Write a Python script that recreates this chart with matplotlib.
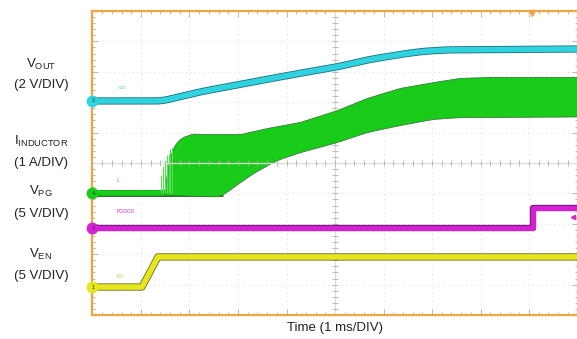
import matplotlib
matplotlib.use("Agg")
import matplotlib.pyplot as plt
import matplotlib.patheffects as pe
from matplotlib.ticker import MultipleLocator
import numpy as np

plt.rcParams['font.family'] = ['Liberation Sans', 'DejaVu Sans']
plt.rcParams['mathtext.fontset'] = 'custom'
plt.rcParams['mathtext.rm'] = 'Liberation Sans'

# time in divisions (1 ms/DIV), levels in screen divisions (0 = bottom, 10 = top)
vout_t = [0, 1.43, 2.22, 3.25, 4.2, 5.04, 5.7, 6.34, 6.8, 7.3, 10]
vout_y = [7.04, 7.04, 7.34, 7.65, 7.93, 8.16, 8.40, 8.57, 8.67, 8.72, 8.75]

il_base = 4.0
il_up_t = [1.49, 1.55, 1.64, 1.75, 1.87, 2.07, 2.22, 3.04, 3.6, 4.28, 5.04, 5.66,
           6.34, 7.02, 7.58, 8.2, 10]
il_up_y = [4.1, 4.9, 5.43, 5.72, 5.86, 5.97, 5.95, 5.95, 6.15, 6.35, 6.74, 7.14,
           7.47, 7.66, 7.80, 7.83, 7.83]
il_lo_t = [1.49, 2.63, 2.9, 3.31, 3.8, 4.28, 5.04, 5.66, 6.34, 7.02, 7.58, 10]
il_lo_y = [3.95, 3.9, 4.21, 4.67, 5.10, 5.36, 5.69, 6.02, 6.25, 6.45, 6.51, 6.53]
spike_t = [1.42, 1.46, 1.50, 1.53, 1.57, 1.60, 1.64]
spike_y = [4.6, 4.9, 5.1, 5.25, 5.3, 5.45, 5.5]

pg_t = [0, 9.08, 9.08, 10]
pg_y = [2.86, 2.86, 3.52, 3.52]

en_t = [0, 1.02, 1.35, 10]
en_y = [0.92, 0.92, 1.91, 1.91]

c_out = "#2fd3df"
c_il = "#19cc19"
c_pg = "#d81fd8"
c_en = "#e6e61e"
c_frame = "#f2a444"


def smooth(t, y, n=15):
    # round off the corners of the piecewise trace
    k = np.ones(n) / n
    yp = np.pad(y, n // 2, mode='edge')
    return np.convolve(yp, k, mode='valid')


fig = plt.figure(figsize=(5.77, 3.39), dpi=100)
ax = fig.add_axes([0.1603, 0.0708, 0.8406, 0.8968])
ax.set_xlim(0, 10)
ax.set_ylim(0, 10)

ax.xaxis.set_major_locator(MultipleLocator(1))
ax.yaxis.set_major_locator(MultipleLocator(1))
ax.xaxis.set_minor_locator(MultipleLocator(0.2))
ax.yaxis.set_minor_locator(MultipleLocator(0.2))
ax.tick_params(which='both', direction='in', top=True, right=True,
               labelbottom=False, labelleft=False, color="#b0b0b0", width=0.6)
ax.tick_params(which='major', length=4)
ax.tick_params(which='minor', length=2.5)
ax.grid(which='major', color="#dedede", linestyle=(0, (1, 3)), linewidth=0.8)
for s in ax.spines.values():
    s.set_color(c_frame)
    s.set_linewidth(1.6)

# green inductor current band
t_all = np.linspace(1.49, 10, 800)
up = smooth(t_all, np.interp(t_all, il_up_t, il_up_y), 9)
lo = smooth(t_all, np.interp(t_all, il_lo_t, il_lo_y), 25)
ax.plot([0, 2.7], [il_base, il_base], color=c_il, lw=4, solid_capstyle='butt',
        path_effects=[pe.Stroke(linewidth=5, foreground="#2a6a2a"), pe.Normal()], zorder=3)
ax.fill_between(t_all, lo, up, color=c_il, edgecolor="#3a7a3a", linewidth=0.6, zorder=3)
ax.vlines(spike_t, il_base, spike_y, color="#55dd55", lw=0.8, zorder=3)

tv = np.linspace(0, 10, 800)
vv = smooth(tv, np.interp(tv, vout_t, vout_y), 25)
ax.plot(tv, vv, color=c_out, lw=4,
        path_effects=[pe.Stroke(linewidth=5.2, foreground="#1f6f7a"), pe.Normal()], zorder=4)
ax.plot(pg_t, pg_y, color=c_pg, lw=3.5,
        path_effects=[pe.Stroke(linewidth=4.6, foreground="#7a1f7a"), pe.Normal()], zorder=4)
ax.plot(en_t, en_y, color=c_en, lw=4,
        path_effects=[pe.Stroke(linewidth=5.2, foreground="#6a6a1a"), pe.Normal()], zorder=4)

# centre cross of the graticule
ax.axhline(5, color="#dcdcdc", lw=0.9, zorder=5)
ax.axvline(5, color="#dcdcdc", lw=0.9, zorder=2)
mt = np.arange(0, 10.01, 0.2)
ax.plot(mt, np.full_like(mt, 5), ls='none', marker='|', ms=4, color="#b8b0a8", mew=0.6, zorder=5)
ax.plot(np.full_like(mt, 5), mt, ls='none', marker='_', ms=4, color="#b8b0a8", mew=0.6, zorder=2)

# channel markers
marks = [(vout_y[0], c_out, "2"), (il_base, c_il, "4"), (pg_y[0], c_pg, "3"), (en_y[0], c_en, "1")]
for y, c, n in marks:
    ax.plot(0, y, 'o', ms=7.5, color=c, clip_on=False, zorder=6)
    ax.text(0.02, y, n, fontsize=4, ha='center', va='center', color="#333333", zorder=7, clip_on=False)

# tiny scope labels
ax.text(0.55, 7.47, "out", fontsize=3.5, color=c_out, ha='left', va='center')
ax.text(0.5, 4.44, "IL", fontsize=3.5, color="#66cc66", ha='left', va='center')
ax.text(0.5, 3.42, "PGOOD", fontsize=3.5, color=c_pg, ha='left', va='center')
ax.text(0.5, 1.25, "EN", fontsize=3.5, color="#cccc33", ha='left', va='center')

# trigger markers
ax.plot(9.06, 9.93, marker='v', ms=5, color=c_frame, clip_on=False, zorder=6)
ax.plot(9.9, 3.22, marker='<', ms=3, color=c_pg, zorder=6)

lab = dict(fontsize=9.5, ha='center', va='center', color="#222222")
fig.text(0.071, 0.810, r"V$_{\mathregular{OUT}}$", **lab)
fig.text(0.071, 0.749, "(2 V/DIV)", **lab)
fig.text(0.071, 0.582, r"I$_{\mathregular{INDUCTOR}}$", **lab)
fig.text(0.071, 0.519, "(1 A/DIV)", **lab)
fig.text(0.071, 0.434, r"V$_{\mathregular{PG}}$", **lab)
fig.text(0.071, 0.369, "(5 V/DIV)", **lab)
fig.text(0.071, 0.249, r"V$_{\mathregular{EN}}$", **lab)
fig.text(0.071, 0.186, "(5 V/DIV)", **lab)
fig.text(335 / 577, 1 - 328 / 339, "Time (1 ms/DIV)", **lab)

fig.savefig("out.png", dpi=100)
